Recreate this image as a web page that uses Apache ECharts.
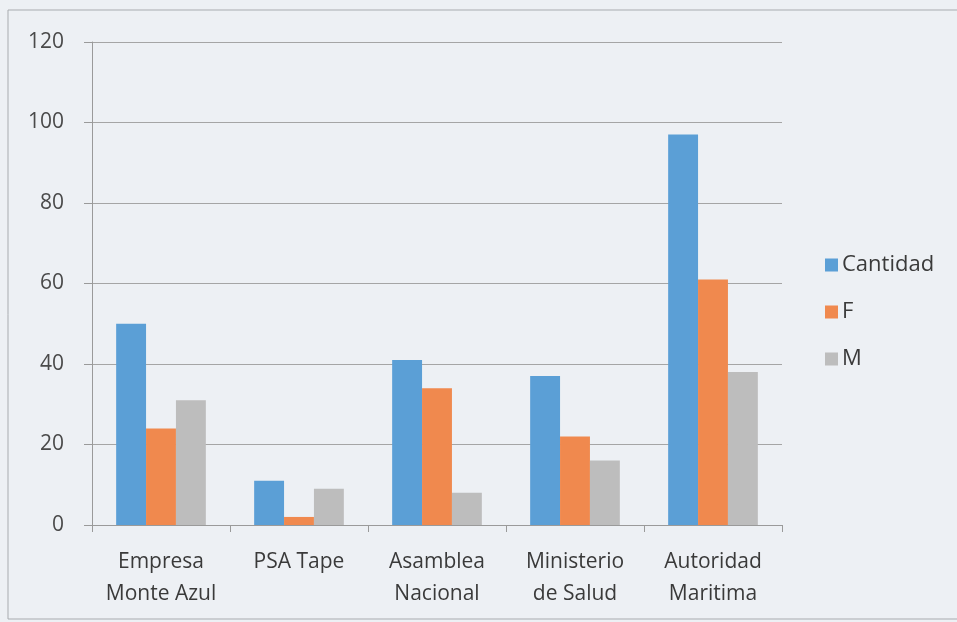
<!DOCTYPE html>
<html>
<head>
<meta charset="utf-8">
<script src="https://cdn.jsdelivr.net/npm/echarts@6/dist/echarts.min.js"></script>
<style>
html,body{margin:0;padding:0;background:#edf0f4;}
#c{width:957px;height:622px;}
</style>
</head>
<body>
<div id="c"></div>
<script>
var categories = ["Empresa\nMonte Azul", "PSA Tape", "Asamblea\nNacional", "Ministerio\nde Salud", "Autoridad\nMaritima"];
var seriesNames = ["Cantidad", "F", "M"];
var cantidad = [50, 11, 41, 37, 97];
var femenino = [24, 2, 34, 22, 61];
var masculino = [31, 9, 8, 16, 38];
var yTicks = [0, 20, 40, 60, 80, 100, 120];
var colors = ["#5b9fd6", "#f0894e", "#bdbdbd"];

var chart = echarts.init(document.getElementById('c'), null, {renderer: 'canvas'});
var font = "'Open Sans', 'Noto Sans', sans-serif";
chart.setOption({
  backgroundColor: '#edf0f4',
  animation: false,
  color: colors,
  graphic: [{
    type: 'rect',
    shape: {x: 8, y: 10, width: 980, height: 609},
    style: {fill: 'none', stroke: '#a8abaf', lineWidth: 1},
    silent: true
  }],
  legend: {
    orient: 'vertical',
    left: 820,
    top: 249,
    itemWidth: 13,
    itemHeight: 13,
    itemGap: 25,
    icon: 'rect',
    textStyle: {fontFamily: font, fontSize: 22, color: '#3a3a3a', lineHeight: 22, padding: [0,0,0,-1]},
    data: seriesNames
  },
  grid: {left: 92, right: 175, top: 42, bottom: 97, containLabel: false},
  xAxis: {
    type: 'category',
    data: categories,
    axisLine: {show: true, lineStyle: {color: '#9a9a9a', width: 1}},
    axisTick: {show: true, length: 7, lineStyle: {color: '#9a9a9a'}},
    axisLabel: {fontFamily: font, fontSize: 21, color: '#3a3a3a', lineHeight: 32, margin: 21, interval: 0}
  },
  yAxis: {
    type: 'value',
    min: 0,
    max: 120,
    interval: 20,
    axisLine: {show: true, lineStyle: {color: '#9a9a9a', width: 1}},
    axisTick: {show: true, length: 8, lineStyle: {color: '#9a9a9a'}},
    axisLabel: {fontFamily: font, fontSize: 21, color: '#4a4a4a', margin: 28,
      formatter: function (v) { return yTicks.indexOf(v) >= 0 ? String(v) : ''; }},
    splitLine: {show: true, lineStyle: {color: '#a5a5a5', width: 1}}
  },
  series: [
    {name: seriesNames[0], type: 'bar', data: cantidad, barGap: '0%', barCategoryGap: '35%', itemStyle: {color: colors[0]}},
    {name: seriesNames[1], type: 'bar', data: femenino, barGap: '0%', barCategoryGap: '35%', itemStyle: {color: colors[1]}},
    {name: seriesNames[2], type: 'bar', data: masculino, barGap: '0%', barCategoryGap: '35%', itemStyle: {color: colors[2]}}
  ]
});
</script>
</body>
</html>
